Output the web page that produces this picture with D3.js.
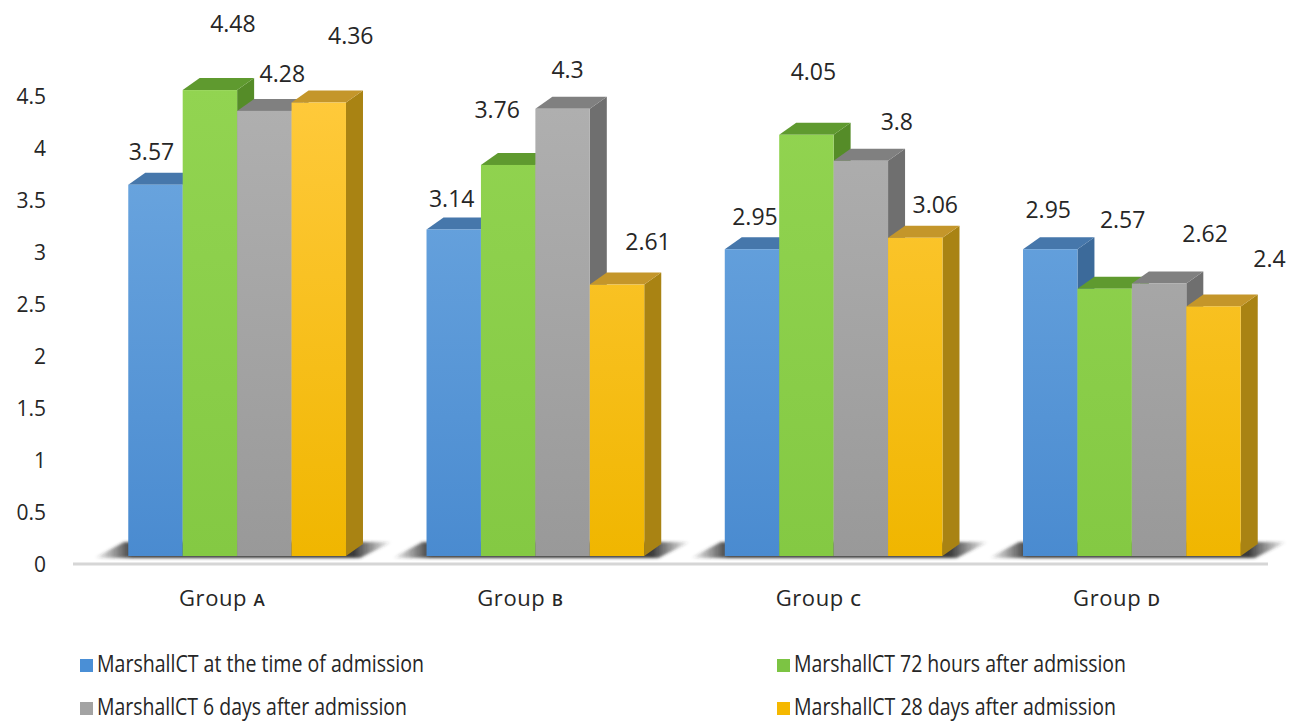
<!DOCTYPE html>
<html>
<head>
<meta charset="utf-8">
<script src="https://cdn.jsdelivr.net/npm/d3@7"></script>
<style>
  html, body { margin: 0; padding: 0; background: #ffffff; }
  svg { display: block; }
  text { font-family: "Open Sans", "Noto Sans", sans-serif; fill: #262626; }
</style>
</head>
<body>
<svg id="chart" width="1298" height="721"></svg>
<script>
// ---- data ----------------------------------------------------------------
const groups = ["A", "B", "C", "D"];
const seriesNames = [
  "MarshallCT at the time of admission",
  "MarshallCT 72 hours after admission",
  "MarshallCT 6 days after admission",
  "MarshallCT 28 days after admission"
];
const atAdmission = [3.57, 3.14, 2.95, 2.95];
const after72Hours = [4.48, 3.76, 4.05, 2.57];
const after6Days  = [4.28, 4.30, 3.80, 2.62];
const after28Days = [4.36, 2.61, 3.06, 2.40];
const yTicks = [0, 0.5, 1, 1.5, 2, 2.5, 3, 3.5, 4, 4.5];
const yTickLabels = ["0", "0.5", "1", "1.5", "2", "2.5", "3", "3.5", "4", "4.5"];

// ---- layout --------------------------------------------------------------
const depthX = 17, depthY = 12;          // oblique offset of the 3D boxes

// per-label nudges [dx from bar centre, rise above the bar top], series x group
const labelNudge = [
  [[-4, 25], [-2, 22], [3, 24], [-2, 31]],
  [[23, 58], [-11, 47], [7, 55], [18, 61]],
  [[18, 29], [5, 31], [36, 31], [46, 42]],
  [[32, 59], [31, 35], [20, 25], [56, 39]]
];

const palette = [
  { key: "blue",   top: "#6fa9e1", bottom: "#4a8bd0", lid: "#4677ab", side: "#3c6a9a", swatch: "#4a8fd6" },
  { key: "green",  top: "#92d451", bottom: "#84c943", lid: "#5f9a2f", side: "#558c28", swatch: "#7cc443" },
  { key: "gray",   top: "#b0b0b0", bottom: "#999999", lid: "#808080", side: "#6f6f6f", swatch: "#a3a3a3" },
  { key: "yellow", top: "#ffca3c", bottom: "#f0b600", lid: "#c4962a", side: "#a98313", swatch: "#f5b800" }
];

const seriesValues = [atAdmission, after72Hours, after6Days, after28Days];
const rows = [];
groups.forEach((g, gi) => {
  seriesValues.forEach((vals, si) => {
    rows.push({ group: g, gi, si, value: vals[gi] });
  });
});

const svg = d3.select("#chart");
const defs = svg.append("defs");

const y = d3.scaleLinear().domain([0, 4.5]).range([556, 556 - 4.5 * 104]);
const x0 = d3.scaleBand().domain(groups).range([88, 1281]).paddingInner(0.27).paddingOuter(0.135);
const x1 = d3.scaleBand().domain(d3.range(4)).range([0, x0.bandwidth()]);

// vertical gradients for the front faces
palette.forEach(p => {
  const lg = defs.append("linearGradient")
    .attr("id", "front-" + p.key)
    .attr("gradientUnits", "userSpaceOnUse")
    .attr("x1", 0).attr("x2", 0).attr("y1", y(4.5)).attr("y2", y(0));
  lg.append("stop").attr("offset", 0).attr("stop-color", p.top);
  lg.append("stop").attr("offset", 1).attr("stop-color", p.bottom);
});

// floor shadow
const sg = defs.append("linearGradient").attr("id", "floorShade");
sg.append("stop").attr("offset", 0).attr("stop-color", "#2e2e2e").attr("stop-opacity", 0);
sg.append("stop").attr("offset", 0.13).attr("stop-color", "#2e2e2e").attr("stop-opacity", 0.95);
sg.append("stop").attr("offset", 0.87).attr("stop-color", "#2e2e2e").attr("stop-opacity", 0.95);
sg.append("stop").attr("offset", 1).attr("stop-color", "#2e2e2e").attr("stop-opacity", 0);
defs.append("filter").attr("id", "soft").attr("x", "-10%").attr("y", "-50%").attr("width", "120%").attr("height", "200%")
  .append("feGaussianBlur").attr("stdDeviation", 1.6);

// axis base line
svg.append("line")
  .attr("x1", 73).attr("x2", 1268)
  .attr("y1", y(0) + 8).attr("y2", y(0) + 8)
  .attr("stroke", "#d6d6d6").attr("stroke-width", 3);

// shadow slab under each group
svg.append("g").selectAll("path.floor").data(groups).join("path")
  .attr("class", "floor")
  .attr("filter", "url(#soft)")
  .attr("fill", "url(#floorShade)")
  .attr("d", g => {
    const left = x0(g) - 34, right = x0(g) + x0.bandwidth() + 14;
    const base = y(0) + 2;
    return `M${left},${base} L${right},${base} L${right + 32},${base - 16} L${left + 30},${base - 16} Z`;
  });

// y axis labels
const yAxis = d3.axisLeft(y).tickValues(yTicks)
  .tickFormat((d, i) => yTickLabels[i]).tickSize(0).tickPadding(0);
const ya = svg.append("g").attr("transform", `translate(46,9)`).call(yAxis);
ya.select(".domain").remove();
ya.selectAll("text")
  .style("font-family", '"Open Sans", "Noto Sans", sans-serif')
  .style("font-size", "21px").style("fill", "#262626");

// bars drawn as oblique boxes, left to right so neighbours overlap properly
const bars = svg.append("g").selectAll("g.bar").data(rows).join("g").attr("class", "bar");
bars.each(function (d) {
  const g = d3.select(this);
  const p = palette[d.si];
  const xl = x0(d.group) + x1(d.si);
  const w = x1.bandwidth();
  const yt = y(d.value), yb = y(0);
  // side face
  g.append("path").attr("fill", p.side)
    .attr("d", `M${xl + w},${yt} L${xl + w + depthX},${yt - depthY} L${xl + w + depthX},${yb - depthY} L${xl + w},${yb} Z`);
  // top face
  g.append("path").attr("fill", p.lid)
    .attr("d", `M${xl},${yt} L${xl + depthX},${yt - depthY} L${xl + w + depthX},${yt - depthY} L${xl + w},${yt} Z`);
  // front face
  g.append("rect").attr("x", xl).attr("y", yt).attr("width", w).attr("height", yb - yt)
    .attr("fill", `url(#front-${p.key})`);
});

// value labels
svg.append("g").selectAll("text.val").data(rows).join("text")
  .attr("class", "val")
  .attr("text-anchor", "middle")
  .attr("font-size", 23)
  .attr("x", d => x0(d.group) + x1(d.si) + x1.bandwidth() / 2 + labelNudge[d.si][d.gi][0])
  .attr("y", d => y(d.value) - labelNudge[d.si][d.gi][1])
  .text(d => String(d.value));

// category labels
const cat = svg.append("g").selectAll("text.cat").data(groups).join("text")
  .attr("class", "cat")
  .attr("text-anchor", "middle")
  .attr("x", g => x0(g) + x0.bandwidth() / 2 - 15)
  .attr("y", 606)
  .attr("font-size", 22)
  .attr("letter-spacing", 0.6);
cat.append("tspan").text("Group ");
cat.append("tspan").attr("font-size", 17).attr("font-weight", 600).text(g => g);

// legend
const legendPos = [[80, 672], [777, 672], [80, 715], [777, 715]];
const legendWidth = [327, 332, 310, 322];
const leg = svg.append("g").selectAll("g.leg").data(seriesNames).join("g")
  .attr("class", "leg")
  .attr("transform", (d, i) => `translate(${legendPos[i][0]},${legendPos[i][1]})`);
leg.append("rect").attr("x", 0).attr("y", -13).attr("width", 13).attr("height", 13)
  .attr("fill", (d, i) => palette[i].swatch);
leg.append("text").attr("x", 17).attr("y", 0).attr("font-size", 24)
  .attr("textLength", (d, i) => legendWidth[i]).attr("lengthAdjust", "spacingAndGlyphs")
  .text(d => d);
</script>
</body>
</html>
